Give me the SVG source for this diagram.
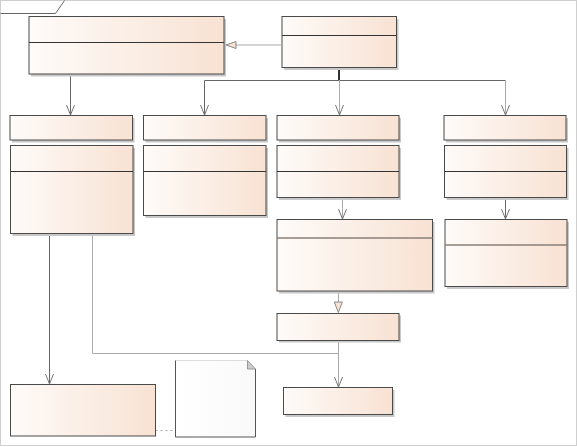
<svg xmlns="http://www.w3.org/2000/svg" width="577" height="447" viewBox="0 0 577 447">
<defs>
<linearGradient id="g" x1="0" y1="0" x2="1" y2="0">
<stop offset="0" stop-color="#fefbf9"/>
<stop offset="1" stop-color="#f8e2d3"/>
</linearGradient>
<linearGradient id="gn" x1="0" y1="0" x2="1" y2="0">
<stop offset="0" stop-color="#ffffff"/>
<stop offset="1" stop-color="#f9f9f9"/>
</linearGradient>
<marker id="open" viewBox="0 0 10 10" refX="10" refY="5" markerWidth="10" markerHeight="10" markerUnits="userSpaceOnUse" orient="auto">
<path d="M0,1 L10,5 L0,9" fill="none" stroke="#777" stroke-width="1"/>
</marker>
</defs>
<style>
.box{fill:url(#g);stroke:#4a4a4a;stroke-width:1}
.sh{fill:#c8c8c8}
.div{stroke:#333;stroke-width:1}
.c{fill:none;stroke:#666;stroke-width:1}
.cl{fill:none;stroke:#aaa;stroke-width:1}
</style>
<rect x="0.5" y="0.5" width="576" height="445" fill="#fff" stroke="#cfcfcf"/>
<path d="M0.5,13.5 H55.5 L64.5,0.5" fill="none" stroke="#666"/>

<g id="connectors">
<path class="cl" d="M281,45 H236"/>
<path d="M236,41.5 L236,48.5 L226,45 Z" fill="#f8e2d3" stroke="#888"/>
<path class="c" d="M70.5,74 V115" marker-end="url(#open)"/>
<path d="M339,67 V80" stroke="#333" stroke-width="2"/>
<path class="c" d="M204.5,115 V80.5 H505.5"/>
<path class="c" d="M204.5,100 V115" marker-end="url(#open)"/>
<path class="cl" d="M339.5,80 V115" marker-end="url(#open)"/>
<path class="cl" d="M505.5,80 V115" marker-end="url(#open)"/>
<path class="cl" d="M342.5,197 V219" marker-end="url(#open)"/>
<path class="c" d="M505.5,197 V219" marker-end="url(#open)"/>
<path class="cl" d="M338.5,291 V302"/>
<path d="M334.3,302 L342.3,302 L338.3,312.5 Z" fill="#f8e2d3" stroke="#888"/>
<path class="cl" d="M92.5,234 V353.5 H338.5"/>
<path class="cl" d="M338.5,340 V387" marker-end="url(#open)"/>
<path class="c" d="M49.5,234 V384" marker-end="url(#open)"/>
<path d="M155.5,430.5 H175" fill="none" stroke="#aaa" stroke-dasharray="2,3"/>
</g>

<g id="nodeA">
<rect class="sh" x="31" y="19" width="195" height="57.5"/>
<rect class="box" x="29" y="16.5" width="195" height="57.5"/>
<line class="div" x1="29" y1="42.5" x2="224" y2="42.5"/>
</g>
<g id="nodeB">
<rect class="sh" x="284" y="19" width="114.5" height="51"/>
<rect class="box" x="282" y="16.5" width="114.5" height="51"/>
<line class="div" x1="282" y1="35.5" x2="396.5" y2="35.5"/>
</g>

<g id="n1">
<rect class="sh" x="12" y="118" width="122.5" height="24.5"/>
<rect class="box" x="10" y="115.5" width="122.5" height="24.5"/>
</g>
<g id="n2">
<rect class="sh" x="145.5" y="118" width="122.5" height="24.5"/>
<rect class="box" x="143.5" y="115.5" width="122.5" height="24.5"/>
</g>
<g id="n3">
<rect class="sh" x="279" y="118" width="122" height="24.5"/>
<rect class="box" x="277" y="115.5" width="122" height="24.5"/>
</g>
<g id="n4">
<rect class="sh" x="446" y="118" width="122" height="24.5"/>
<rect class="box" x="444" y="115.5" width="122" height="24.5"/>
</g>

<g id="c1">
<rect class="sh" x="12.5" y="148" width="122.5" height="88"/>
<rect class="box" x="10.5" y="145.5" width="122.5" height="88"/>
<line class="div" x1="10.5" y1="171.5" x2="133" y2="171.5"/>
</g>
<g id="c2">
<rect class="sh" x="145.5" y="148" width="122.5" height="70"/>
<rect class="box" x="143.5" y="145.5" width="122.5" height="70"/>
<line class="div" x1="143.5" y1="171.5" x2="266" y2="171.5"/>
</g>
<g id="c3">
<rect class="sh" x="279" y="148" width="122" height="52"/>
<rect class="box" x="277" y="145.5" width="122" height="52"/>
<line class="div" x1="277" y1="171.5" x2="399" y2="171.5"/>
</g>
<g id="c4">
<rect class="sh" x="446.5" y="148" width="122" height="52"/>
<rect class="box" x="444.5" y="145.5" width="122" height="52"/>
<line class="div" x1="444.5" y1="171.5" x2="566.5" y2="171.5"/>
</g>

<g id="d3">
<rect class="sh" x="279" y="222" width="155.5" height="71.5"/>
<rect class="box" x="277" y="219.5" width="155.5" height="71.5"/>
<line x1="277" y1="238" x2="432.5" y2="238" stroke="#8a7f78" stroke-width="1.5"/>
</g>
<g id="d4">
<rect class="sh" x="447" y="222" width="122" height="67"/>
<rect class="box" x="445" y="219.5" width="122" height="67"/>
<line x1="445" y1="245" x2="567" y2="245" stroke="#8a7f78" stroke-width="1.5"/>
</g>

<g id="e3">
<rect class="sh" x="279" y="315.5" width="122" height="27"/>
<rect class="box" x="277" y="313.5" width="122" height="27"/>
</g>
<g id="f3">
<rect class="sh" x="285.5" y="390" width="109" height="27"/>
<rect class="box" x="283.5" y="387.5" width="109" height="27"/>
</g>
<g id="bl">
<rect class="box" x="10.5" y="384.5" width="145" height="51.5"/>
</g>
<g id="note">
<path d="M175.5,437 V360.5 H247.5 L255.5,369 V437 Z" fill="url(#gn)" stroke="none"/>
<path d="M175.5,360.5 H247.5" stroke="#ddd" fill="none"/>
<path d="M175.5,360.5 V437 H255.5 V369" fill="none" stroke="#555"/>
<path d="M247.5,360.5 V369 H255.5 Z" fill="#ccc" stroke="#999"/>
</g>
</svg>
